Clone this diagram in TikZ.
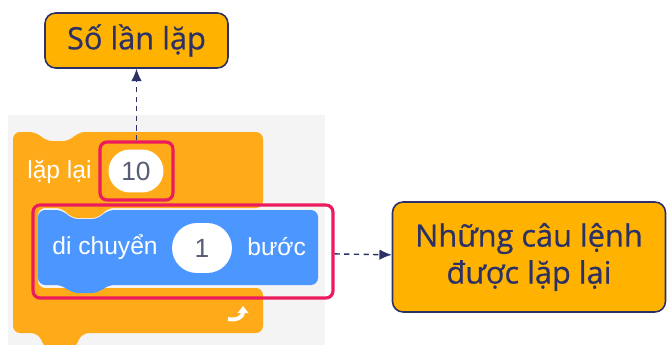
\documentclass[tikz,border=0pt]{standalone}
\usepackage{fontspec}
\setmainfont{Open Sans}[FakeBold=0.6]
\newfontfamily\notefont{Open Sans}[FakeBold=0.6]
\newfontfamily\blockfont{Liberation Sans}
\usetikzlibrary{shapes,arrows,arrows.meta,positioning}
\definecolor{navy}{HTML}{2B3166}
\definecolor{boxfill}{HTML}{FFB300}
\definecolor{ctrl}{HTML}{FFAB19}
\definecolor{motion}{HTML}{4C97FF}
\definecolor{hired}{HTML}{EC1B5E}
\definecolor{panel}{HTML}{F4F4F4}
\definecolor{numtext}{HTML}{575E75}
\tikzstyle{note} = [rectangle, draw=navy, fill=boxfill, line width=0.9pt,
    rounded corners=6pt, text=navy, align=center, font=\notefont\fontsize{17.5}{21}\selectfont]
\tikzstyle{hilite} = [rectangle, draw=hired, line width=1.8pt, rounded corners=4pt]
\tikzstyle{oval} = [rectangle, fill=white, text=numtext, font=\blockfont\fontsize{15}{17}\selectfont]
\tikzstyle{blocktext} = [text=white, inner sep=0pt, font=\blockfont\fontsize{14}{16}\selectfont]
\tikzstyle{line} = [draw, navy, line width=0.8pt, dash pattern=on 3pt off 2.5pt,
    -{Latex[length=7pt,width=6pt]}]

\begin{document}
\begin{tikzpicture}[x=0.02cm, y=-0.02cm]
    \clip (0,0) rectangle (667,345);
    \fill[white] (0,0) rectangle (667,345);
    \fill[panel] (8,115) rectangle (325,350);

    % Scratch blocks
    \fill[ctrl, rounded corners=4] (13,132) -- (37,132) -- (45,141) -- (70,141) -- (78,132)
        -- (263,132) -- (263,208) -- (107,208) -- (99,218) -- (71,218) -- (63,208)
        -- (38,208) -- (38,288) -- (263,288) -- (263,333) -- (82,333) -- (74,350)
        -- (46,350) -- (38,333) -- (13,333) -- cycle;
    \fill[motion, rounded corners=4] (38,210) -- (63,210) -- (71,219) -- (99,219) -- (107,210)
        -- (318,210) -- (318,285) -- (107,285) -- (99,293) -- (71,293) -- (63,285)
        -- (38,285) -- cycle;
    \draw[white, line width=2.2pt, -{Triangle[length=4pt,width=6pt]}]
        (228,319) .. controls (238,321) and (243,316) .. (243,306);

    % Place nodes
    \node [blocktext, anchor=west] (repeat) at (27,172) {lặp lại};
    \node [oval, minimum width=1.1cm, minimum height=0.86cm, rounded corners=0.43cm] (count) at (136,171) {10};
    \node [blocktext, anchor=west] (move) at (52,247) {di chuyển};
    \node [oval, minimum width=1.2cm, minimum height=1.0cm, rounded corners=0.5cm] (steps) at (202,248) {1};
    \node [blocktext, anchor=west] (unit) at (247,247) {bước};

    \node [hilite, minimum width=1.46cm, minimum height=1.16cm] (countbox) at (136.5,171) {};
    \node [hilite, minimum width=6cm, minimum height=1.86cm] (bodybox) at (183,251.5) {};

    \node [note, minimum width=3.66cm, minimum height=1.1cm] (times) at (136.5,40.5) {Số lần lặp};
    \node [note, minimum width=5.46cm, minimum height=2.2cm] (repeated) at (529,257) {Những câu lệnh\\được lặp lại};

    % Draw edges
    \path [line] (countbox) -- (times);
    \path [line] (bodybox) -- (repeated);
\end{tikzpicture}
\end{document}
